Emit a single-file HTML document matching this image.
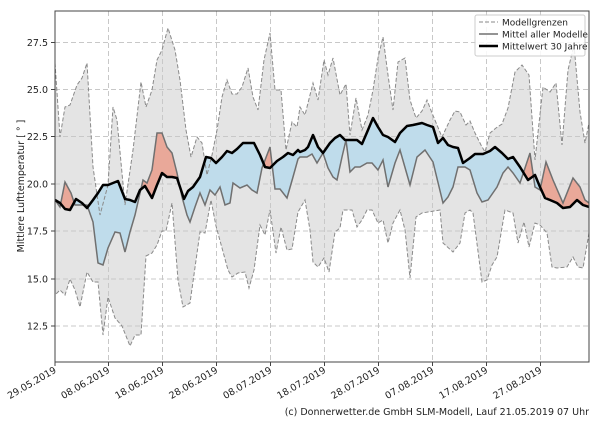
<!DOCTYPE html>
<html><head><meta charset="utf-8"><style>
html,body{margin:0;padding:0;background:#fff}
svg text{font-family:"DejaVu Sans","Liberation Sans",sans-serif;fill:#222}
</style></head><body>
<svg width="600" height="420" viewBox="0 0 600 420" xmlns="http://www.w3.org/2000/svg">
<defs>
<clipPath id="ax"><rect x="55" y="11" width="534" height="351"/></clipPath>
<clipPath id="above"><polygon points="55,11 55,200 60,203 65,209 70,210 76,199 82,203 87,208 93,200 98,193 103,185 108,185 113,183 118,181 125,199 130,200 135,202 140,190 145,186 152,198 157,185 162,173 167,177 172,177 177,178 184,199 188,191 193,187 200,177 206,157 211,158 216,163 222,157 227,151 232,153 237,149 243,143 249,143 254,143 260,155 265,167 270,168 277,161 283,157 288,153 293,155 298,150 300,152 305,150 308,147 313,135 318,147 323,153 330,143 335,138 340,135 345,140 350,140 357,140 362,144 368,130 373,118 378,127 383,135 388,137 395,142 400,133 407,126 413,125 422,123 427,125 433,127 438,143 443,138 448,145 453,147 458,148 463,163 470,158 475,154 483,154 490,151 495,147 502,153 508,159 513,157 520,167 528,180 535,175 540,187 545,198 550,200 557,203 563,208 570,207 577,200 583,205 589,207 589,11"/></clipPath>
<clipPath id="below"><polygon points="55,362 55,200 60,203 65,209 70,210 76,199 82,203 87,208 93,200 98,193 103,185 108,185 113,183 118,181 125,199 130,200 135,202 140,190 145,186 152,198 157,185 162,173 167,177 172,177 177,178 184,199 188,191 193,187 200,177 206,157 211,158 216,163 222,157 227,151 232,153 237,149 243,143 249,143 254,143 260,155 265,167 270,168 277,161 283,157 288,153 293,155 298,150 300,152 305,150 308,147 313,135 318,147 323,153 330,143 335,138 340,135 345,140 350,140 357,140 362,144 368,130 373,118 378,127 383,135 388,137 395,142 400,133 407,126 413,125 422,123 427,125 433,127 438,143 443,138 448,145 453,147 458,148 463,163 470,158 475,154 483,154 490,151 495,147 502,153 508,159 513,157 520,167 528,180 535,175 540,187 545,198 550,200 557,203 563,208 570,207 577,200 583,205 589,207 589,362"/></clipPath>
</defs>

<g clip-path="url(#ax)">
<!-- range fill -->
<polygon fill="#e4e4e4" points="55,63 60,137 65,107 70,105 77,85 82,78 87,63 93,167 100,215 108,185 113,107 117,120 125,205 133,150 141,82 146,107 152,90 157,60 162,50 168,28 175,50 180,80 186,130 191,157 197,137 202,143 207,175 212,155 217,130 222,97 227,80 232,94 237,94 242,87 248,68 253,97 258,110 264,60 270,33 275,90 281,90 286,150 292,122 297,127 300,107 305,115 313,83 318,100 324,60 328,75 333,58 340,95 346,84 350,135 356,98 362,130 368,115 373,90 378,58 383,37 388,75 393,110 398,62 405,58 410,100 416,118 422,111 427,100 432,113 437,125 442,137 450,120 455,111 460,112 466,125 470,121 475,133 481,145 485,152 490,133 496,128 502,124 508,108 515,72 522,65 529,75 535,160 543,87 550,92 556,83 562,145 568,70 574,45 580,112 585,143 589,123
589,233 583,268 578,267 573,257 567,267 557,268 552,267 547,233 540,225 535,223 529,247 524,222 518,243 513,213 505,210 497,257 492,265 487,280 482,282 473,213 470,210 465,213 460,243 453,252 443,243 440,210 422,213 416,217 410,278 405,230 400,210 393,223 388,243 383,220 378,223 372,210 367,210 362,220 357,227 352,210 343,210 340,228 335,232 329,272 324,258 318,267 313,262 310,230 305,200 298,212 292,249 287,250 281,227 276,253 270,210 265,235 260,225 254,270 249,288 245,272 238,273 232,277 228,270 222,248 216,226 211,200 205,233 200,232 190,303 183,307 178,280 172,203 166,231 162,231 157,245 152,253 146,256 141,335 135,335 130,346 122,326 115,318 108,297 103,335 98,282 93,282 87,272 80,307 75,290 70,279 65,295 60,290 55,295"/>
<!-- grid -->
<g stroke="#c8c8c8" stroke-width="1" stroke-dasharray="5,3">
<line x1="55" x2="589" y1="42.5" y2="42.5"/><line x1="55" x2="589" y1="89.5" y2="89.5"/><line x1="55" x2="589" y1="136.5" y2="136.5"/><line x1="55" x2="589" y1="184" y2="184"/><line x1="55" x2="589" y1="231" y2="231"/><line x1="55" x2="589" y1="279" y2="279"/><line x1="55" x2="589" y1="326" y2="326"/>
<line y1="11" y2="362" x1="108.5" x2="108.5"/><line y1="11" y2="362" x1="162.5" x2="162.5"/><line y1="11" y2="362" x1="216.5" x2="216.5"/><line y1="11" y2="362" x1="270.5" x2="270.5"/><line y1="11" y2="362" x1="324.5" x2="324.5"/><line y1="11" y2="362" x1="378.5" x2="378.5"/><line y1="11" y2="362" x1="432.5" x2="432.5"/><line y1="11" y2="362" x1="486.5" x2="486.5"/><line y1="11" y2="362" x1="540.5" x2="540.5"/>
</g>
<!-- diff fills -->
<g id="diff">
<polygon fill="#e9a899" clip-path="url(#above)" points="55,200 60,207 65,182 71,193 75,205 80,205 87,205 93,222 98,263 103,265 108,248 115,232 120,233 125,252 130,232 135,215 143,180 147,183 152,170 157,133 162,133 167,147 172,153 177,173 182,197 187,215 190,222 195,207 200,193 205,205 210,190 215,195 220,187 225,205 230,203 233,183 240,188 247,185 252,190 257,193 262,168 270,147 275,189 280,189 287,198 293,177 298,159 300,157 307,157 312,154 317,163 323,153 328,168 333,177 337,180 342,157 346,140 350,172 355,167 360,167 367,163 372,163 378,170 383,160 388,187 395,163 400,150 410,185 417,157 425,150 433,162 443,203 448,197 453,187 458,167 465,167 470,170 477,193 482,202 488,200 497,187 503,173 508,167 513,173 520,183 530,153 535,187 540,190 546,162 553,180 563,203 573,178 580,187 585,200 589,203 589,207 583,205 577,200 570,207 563,208 557,203 550,200 545,198 540,187 535,175 528,180 520,167 513,157 508,159 502,153 495,147 490,151 483,154 475,154 470,158 463,163 458,148 453,147 448,145 443,138 438,143 433,127 427,125 422,123 413,125 407,126 400,133 395,142 388,137 383,135 378,127 373,118 368,130 362,144 357,140 350,140 345,140 340,135 335,138 330,143 323,153 318,147 313,135 308,147 305,150 300,152 298,150 293,155 288,153 283,157 277,161 270,168 265,167 260,155 254,143 249,143 243,143 237,149 232,153 227,151 222,157 216,163 211,158 206,157 200,177 193,187 188,191 184,199 177,178 172,177 167,177 162,173 157,185 152,198 145,186 140,190 135,202 130,200 125,199 118,181 113,183 108,185 103,185 98,193 93,200 87,208 82,203 76,199 70,210 65,209 60,203 55,200"/>
</g>
<use href="#diff" style="display:none"/>
<polygon fill="#bfdceb" clip-path="url(#below)" points="55,200 60,207 65,182 71,193 75,205 80,205 87,205 93,222 98,263 103,265 108,248 115,232 120,233 125,252 130,232 135,215 143,180 147,183 152,170 157,133 162,133 167,147 172,153 177,173 182,197 187,215 190,222 195,207 200,193 205,205 210,190 215,195 220,187 225,205 230,203 233,183 240,188 247,185 252,190 257,193 262,168 270,147 275,189 280,189 287,198 293,177 298,159 300,157 307,157 312,154 317,163 323,153 328,168 333,177 337,180 342,157 346,140 350,172 355,167 360,167 367,163 372,163 378,170 383,160 388,187 395,163 400,150 410,185 417,157 425,150 433,162 443,203 448,197 453,187 458,167 465,167 470,170 477,193 482,202 488,200 497,187 503,173 508,167 513,173 520,183 530,153 535,187 540,190 546,162 553,180 563,203 573,178 580,187 585,200 589,203 589,207 583,205 577,200 570,207 563,208 557,203 550,200 545,198 540,187 535,175 528,180 520,167 513,157 508,159 502,153 495,147 490,151 483,154 475,154 470,158 463,163 458,148 453,147 448,145 443,138 438,143 433,127 427,125 422,123 413,125 407,126 400,133 395,142 388,137 383,135 378,127 373,118 368,130 362,144 357,140 350,140 345,140 340,135 335,138 330,143 323,153 318,147 313,135 308,147 305,150 300,152 298,150 293,155 288,153 283,157 277,161 270,168 265,167 260,155 254,143 249,143 243,143 237,149 232,153 227,151 222,157 216,163 211,158 206,157 200,177 193,187 188,191 184,199 177,178 172,177 167,177 162,173 157,185 152,198 145,186 140,190 135,202 130,200 125,199 118,181 113,183 108,185 103,185 98,193 93,200 87,208 82,203 76,199 70,210 65,209 60,203 55,200"/>
<!-- bounds -->
<g fill="none" stroke="#8a8a8a" stroke-width="1" stroke-dasharray="4,2">
<polyline points="55,63 60,137 65,107 70,105 77,85 82,78 87,63 93,167 100,215 108,185 113,107 117,120 125,205 133,150 141,82 146,107 152,90 157,60 162,50 168,28 175,50 180,80 186,130 191,157 197,137 202,143 207,175 212,155 217,130 222,97 227,80 232,94 237,94 242,87 248,68 253,97 258,110 264,60 270,33 275,90 281,90 286,150 292,122 297,127 300,107 305,115 313,83 318,100 324,60 328,75 333,58 340,95 346,84 350,135 356,98 362,130 368,115 373,90 378,58 383,37 388,75 393,110 398,62 405,58 410,100 416,118 422,111 427,100 432,113 437,125 442,137 450,120 455,111 460,112 466,125 470,121 475,133 481,145 485,152 490,133 496,128 502,124 508,108 515,72 522,65 529,75 535,160 543,87 550,92 556,83 562,145 568,70 574,45 580,112 585,143 589,123"/>
<polyline points="589,233 583,268 578,267 573,257 567,267 557,268 552,267 547,233 540,225 535,223 529,247 524,222 518,243 513,213 505,210 497,257 492,265 487,280 482,282 473,213 470,210 465,213 460,243 453,252 443,243 440,210 422,213 416,217 410,278 405,230 400,210 393,223 388,243 383,220 378,223 372,210 367,210 362,220 357,227 352,210 343,210 340,228 335,232 329,272 324,258 318,267 313,262 310,230 305,200 298,212 292,249 287,250 281,227 276,253 270,210 265,235 260,225 254,270 249,288 245,272 238,273 232,277 228,270 222,248 216,226 211,200 205,233 200,232 190,303 183,307 178,280 172,203 166,231 162,231 157,245 152,253 146,256 141,335 135,335 130,346 122,326 115,318 108,297 103,335 98,282 93,282 87,272 80,307 75,290 70,279 65,295 60,290 55,295"/>
</g>
<!-- model mean -->
<polyline fill="none" stroke="#707070" stroke-width="1.5" points="55,200 60,207 65,182 71,193 75,205 80,205 87,205 93,222 98,263 103,265 108,248 115,232 120,233 125,252 130,232 135,215 143,180 147,183 152,170 157,133 162,133 167,147 172,153 177,173 182,197 187,215 190,222 195,207 200,193 205,205 210,190 215,195 220,187 225,205 230,203 233,183 240,188 247,185 252,190 257,193 262,168 270,147 275,189 280,189 287,198 293,177 298,159 300,157 307,157 312,154 317,163 323,153 328,168 333,177 337,180 342,157 346,140 350,172 355,167 360,167 367,163 372,163 378,170 383,160 388,187 395,163 400,150 410,185 417,157 425,150 433,162 443,203 448,197 453,187 458,167 465,167 470,170 477,193 482,202 488,200 497,187 503,173 508,167 513,173 520,183 530,153 535,187 540,190 546,162 553,180 563,203 573,178 580,187 585,200 589,203"/>
<!-- 30y mean -->
<polyline fill="none" stroke="#000" stroke-width="2.5" stroke-linejoin="round" points="55,200 60,203 65,209 70,210 76,199 82,203 87,208 93,200 98,193 103,185 108,185 113,183 118,181 125,199 130,200 135,202 140,190 145,186 152,198 157,185 162,173 167,177 172,177 177,178 184,199 188,191 193,187 200,177 206,157 211,158 216,163 222,157 227,151 232,153 237,149 243,143 249,143 254,143 260,155 265,167 270,168 277,161 283,157 288,153 293,155 298,150 300,152 305,150 308,147 313,135 318,147 323,153 330,143 335,138 340,135 345,140 350,140 357,140 362,144 368,130 373,118 378,127 383,135 388,137 395,142 400,133 407,126 413,125 422,123 427,125 433,127 438,143 443,138 448,145 453,147 458,148 463,163 470,158 475,154 483,154 490,151 495,147 502,153 508,159 513,157 520,167 528,180 535,175 540,187 545,198 550,200 557,203 563,208 570,207 577,200 583,205 589,207"/>
</g>
<!-- frame -->
<rect x="55" y="11" width="534" height="351" fill="none" stroke="#444" stroke-width="1"/>
<!-- y ticks -->
<g stroke="#444"><line x1="51" x2="55" y1="42.5" y2="42.5"/><line x1="51" x2="55" y1="89.5" y2="89.5"/><line x1="51" x2="55" y1="136.5" y2="136.5"/><line x1="51" x2="55" y1="184" y2="184"/><line x1="51" x2="55" y1="231" y2="231"/><line x1="51" x2="55" y1="279" y2="279"/><line x1="51" x2="55" y1="326" y2="326"/>
<line y1="362" y2="366" x1="55" x2="55"/><line y1="362" y2="366" x1="108.5" x2="108.5"/><line y1="362" y2="366" x1="162.5" x2="162.5"/><line y1="362" y2="366" x1="216.5" x2="216.5"/><line y1="362" y2="366" x1="270.5" x2="270.5"/><line y1="362" y2="366" x1="324.5" x2="324.5"/><line y1="362" y2="366" x1="378.5" x2="378.5"/><line y1="362" y2="366" x1="432.5" x2="432.5"/><line y1="362" y2="366" x1="486.5" x2="486.5"/><line y1="362" y2="366" x1="540.5" x2="540.5"/></g>
<g font-size="9.5" text-anchor="end">
<text x="48" y="46">27.5</text><text x="48" y="93">25.0</text><text x="48" y="140">22.5</text><text x="48" y="187.5">20.0</text><text x="48" y="234.5">17.5</text><text x="48" y="282.5">15.0</text><text x="48" y="329.5">12.5</text>
</g>
<g font-size="9.5" text-anchor="end">
<text transform="translate(57,372) rotate(-30)">29.05.2019</text>
<text transform="translate(110.5,372) rotate(-30)">08.06.2019</text>
<text transform="translate(164.5,372) rotate(-30)">18.06.2019</text>
<text transform="translate(218.5,372) rotate(-30)">28.06.2019</text>
<text transform="translate(272.5,372) rotate(-30)">08.07.2019</text>
<text transform="translate(326.5,372) rotate(-30)">18.07.2019</text>
<text transform="translate(380.5,372) rotate(-30)">28.07.2019</text>
<text transform="translate(434.5,372) rotate(-30)">07.08.2019</text>
<text transform="translate(488.5,372) rotate(-30)">17.08.2019</text>
<text transform="translate(542.5,372) rotate(-30)">27.08.2019</text>
</g>
<text font-size="9.5" text-anchor="middle" transform="translate(24,186) rotate(-90)">Mittlere Lufttemperatur [ ° ]</text>
<!-- legend -->
<rect x="475" y="15" width="110" height="41" fill="#fff" fill-opacity="0.85" stroke="#ccc" stroke-width="1" rx="2"/>
<line x1="479" x2="498" y1="22" y2="22" stroke="#8a8a8a" stroke-dasharray="4,2"/>
<line x1="479" x2="498" y1="34" y2="34" stroke="#707070" stroke-width="1.5"/>
<line x1="479" x2="498" y1="46" y2="46" stroke="#000" stroke-width="2.5"/>
<g font-size="9"><text x="502" y="25.5">Modellgrenzen</text><text x="502" y="37.5">Mittel aller Modelle</text><text x="502" y="49.5">Mittelwert 30 Jahre</text></g>
<text x="589" y="415" font-size="9.5" text-anchor="end">(c) Donnerwetter.de GmbH SLM-Modell, Lauf 21.05.2019 07 Uhr</text>
</svg>
</body></html>
